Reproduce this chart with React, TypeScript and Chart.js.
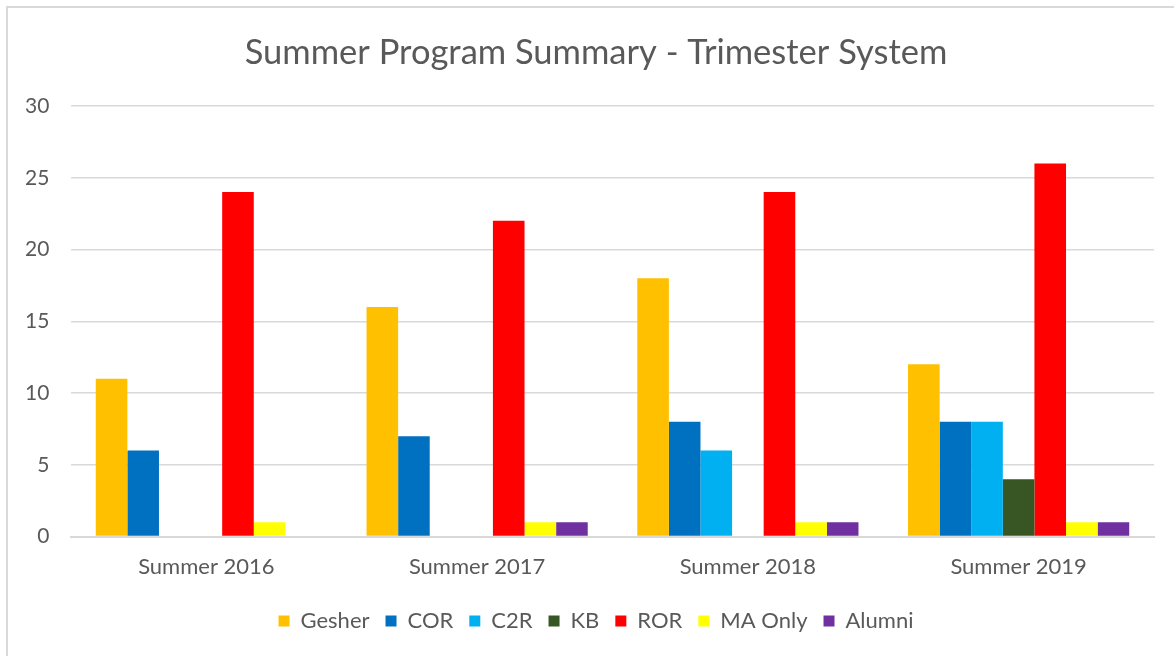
import React, { useEffect, useRef } from "react";
import { Chart, registerables } from "chart.js";

Chart.register(...registerables);

const categories = ["Summer 2016", "Summer 2017", "Summer 2018", "Summer 2019"];
const seriesNames = ["Gesher", "COR", "C2R", "KB", "ROR", "MA Only", "Alumni"];
const gesher = [11, 16, 18, 12];
const cor = [6, 7, 8, 8];
const c2r = [0, 0, 6, 8];
const kb = [0, 0, 0, 4];
const ror = [24, 22, 24, 26];
const maOnly = [1, 1, 1, 1];
const alumni = [0, 1, 1, 1];
const seriesColors = ["#FFC000", "#0070C0", "#00B0F0", "#375623", "#FF0000", "#FFFF00", "#7030A0"];
const yTicks = [0, 5, 10, 15, 20, 25, 30];

const FONT = "Lato, 'Open Sans', sans-serif";
const TEXT = "#595959";

export default function App() {
  const ref = useRef<HTMLCanvasElement | null>(null);
  useEffect(() => {
    if (!ref.current) return;
    const values = [gesher, cor, c2r, kb, ror, maOnly, alumni];
    const chart = new Chart(ref.current, {
      type: "bar",
      data: {
        labels: categories,
        datasets: seriesNames.map((name, i) => ({
          label: name,
          data: values[i],
          backgroundColor: seriesColors[i],
          borderWidth: 0,
          categoryPercentage: 0.817,
          barPercentage: 1,
        })),
      },
      options: {
        animation: false,
        responsive: false,
        maintainAspectRatio: false,
        layout: { padding: { left: 38, right: 20, top: 0, bottom: 14 } },
        plugins: {
          title: {
            display: true,
            text: "Summer Program Summary - Trimester System",
            color: TEXT,
            font: { family: FONT, size: 34.5, weight: "normal" },
            padding: { top: 32, bottom: 32.6 },
          },
          legend: {
            position: "bottom",
            labels: {
              color: TEXT,
              font: { family: FONT, size: 22 },
              boxWidth: 11,
              boxHeight: 11,
              padding: 16,
            },
          },
          tooltip: { enabled: false },
        },
        scales: {
          x: {
            afterFit: (s: any) => { s.height -= 3; },
            grid: { display: false, drawTicks: false },
            border: { display: true, color: "#d9d9d9", width: 2 },
            ticks: { color: TEXT, font: { family: FONT, size: 22 }, padding: 17 },
          },
          y: {
            min: 0,
            max: 30,
            afterFit: (s: any) => { s.width = 33; },
            afterBuildTicks: (s: any) => { s.ticks = yTicks.map((v) => ({ value: v })); },
            grid: { color: "#d9d9d9", lineWidth: 1.5, drawTicks: false },
            border: { display: false },
            ticks: {
              color: TEXT,
              font: { family: FONT, size: 21 },
              mirror: true,
              crossAlign: "far",
              padding: -46,
            },
          },
        },
      },
    });
    return () => chart.destroy();
  }, []);
  return (
    <div style={{ position: "fixed", left: 0, top: 0, width: 1174, height: 656, overflow: "hidden", background: "#fff" }}>
      <div style={{ position: "absolute", left: 6, top: 6, width: 1300, height: 800, border: "2px solid #d9d9d9", boxSizing: "border-box" }} />
      <canvas ref={ref} width={1174} height={656} style={{ position: "absolute", left: 0, top: 0, width: 1174, height: 656 }} />
    </div>
  );
}
